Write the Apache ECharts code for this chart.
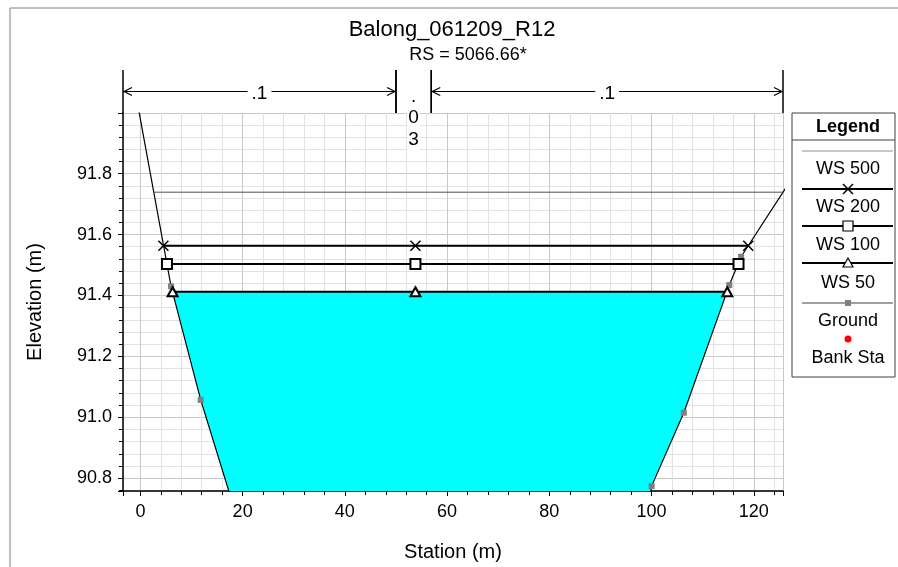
<!DOCTYPE html>
<html>
<head>
<meta charset="utf-8">
<title>Balong_061209_R12</title>
<script src="https://cdn.jsdelivr.net/npm/echarts@6/dist/echarts.min.js"></script>
<style>
html, body { margin: 0; padding: 0; background: #fff; }
#main { width: 898px; height: 567px; }
</style>
</head>
<body>
<div id="main"></div>
<script type="text/javascript">
// ground profile (station m / elevation m)
var groundStation = [-1.0, 6.0, 11.8, 20.2, 98.5, 100.0, 106.3, 115.2, 117.5, 130.0];
var groundElev = [92.07, 91.43, 91.057, 90.60, 90.60, 90.774, 91.015, 91.434, 91.527, 91.85];

// water surfaces: stations of the markers, one elevation each
var ws500Station = [2.6, 125.8];
var ws500Elev = 91.739;
var ws200Station = [4.5, 53.8, 118.9];
var ws200Elev = 91.563;
var ws100Station = [5.2, 53.8, 117.0];
var ws100Elev = 91.503;
var ws50Station = [6.3, 53.8, 114.8];
var ws50Elev = 91.412;

// manning's n regions
var nStations = [-3.4, 50.0, 56.9, 125.7];
var nValues = ['.1', '.03', '.1'];

var xMin = -3.4, xMax = 125.7;
var yMin = 90.758, yMax = 91.999;

var FONT = 'Liberation Sans, Arial, sans-serif';

function flat(st, elev) {
	return st.map(function (s) { return [s, elev]; });
}

var groundData = groundStation.map(function (s, i) { return [s, groundElev[i]]; });

// wetted area below WS 50
var wsL = ws50Station[0], wsR = ws50Station[ws50Station.length - 1];
var waterPoly = [[wsL, ws50Elev], [wsR, ws50Elev]];
for (var i = groundStation.length - 1; i >= 0; i--) {
	if (groundStation[i] > wsL && groundStation[i] < wsR && groundElev[i] < ws50Elev) {
		waterPoly.push([groundStation[i], groundElev[i]]);
	}
}

var xSym = 'path://M0,0L10,10M10,0L0,10';

var myChart = echarts.init(document.getElementById('main'));

var axisCommon = {
	type: 'value',
	splitNumber: 6,
	axisLine: { onZero: false, lineStyle: { color: '#000', width: 1.5 } },
	axisTick: { length: 5, lineStyle: { color: '#000' } },
	minorTick: { show: true, splitNumber: 5, length: 4, lineStyle: { color: '#000' } },
	splitLine: { show: true, lineStyle: { color: '#c8c8c8', width: 1 } },
	minorSplitLine: { show: true, lineStyle: { color: '#e2e2e2', width: 1 } },
	nameLocation: 'middle',
	nameTextStyle: { fontSize: 20, color: '#000', fontFamily: FONT }
};

var option = {
	animation: false,
	backgroundColor: '#fff',
	grid: { left: 123, top: 113, width: 660, height: 379 },
	xAxis: echarts.util.merge({
		min: xMin, max: xMax,
		name: 'Station (m)', nameGap: 51,
		axisLabel: { showMinLabel: false, showMaxLabel: false, fontSize: 18, color: '#000', fontFamily: FONT, margin: 12 }
	}, axisCommon),
	yAxis: echarts.util.merge({
		min: yMin, max: yMax,
		name: 'Elevation (m)', nameGap: 78,
		axisLabel: { showMinLabel: false, showMaxLabel: false, fontSize: 18, color: '#000', fontFamily: FONT, margin: 11,
			formatter: function (v) { return v.toFixed(1); } }
	}, axisCommon),
	graphic: [
		{ type: 'rect', shape: { x: 10, y: 8, width: 1000, height: 1000 }, style: { fill: null, stroke: '#808080', lineWidth: 1 }, silent: true },
		{ type: 'text', x: 452, y: 30, style: { text: 'Balong_061209_R12', font: '22px ' + FONT, fill: '#000', align: 'center', verticalAlign: 'middle' } },
		{ type: 'text', x: 468, y: 55, style: { text: 'RS = 5066.66*', font: '18px ' + FONT, fill: '#000', align: 'center', verticalAlign: 'middle' } },
		{
			type: 'group', x: 792, y: 113,
			children: [
				{ type: 'rect', shape: { x: 0, y: 0, width: 103, height: 264 }, style: { fill: '#fff', stroke: '#404040', lineWidth: 1 } },
				{ type: 'line', shape: { x1: 0, y1: 27, x2: 103, y2: 27 }, style: { stroke: '#404040', lineWidth: 1 } },
				{ type: 'text', x: 56, y: 14, style: { text: 'Legend', font: 'bold 18px ' + FONT, fill: '#000', align: 'center', verticalAlign: 'middle' } },
				// WS 500
				{ type: 'line', shape: { x1: 10, y1: 38, x2: 101, y2: 38 }, style: { stroke: '#909090', lineWidth: 1 } },
				{ type: 'text', x: 56, y: 56, style: { text: 'WS 500', font: '18px ' + FONT, fill: '#000', align: 'center', verticalAlign: 'middle' } },
				// WS 200
				{ type: 'line', shape: { x1: 10, y1: 76, x2: 101, y2: 76 }, style: { stroke: '#000', lineWidth: 2 } },
				{ type: 'polyline', shape: { points: [[51, 71], [61, 81]] }, style: { stroke: '#000', lineWidth: 1.5, fill: null } },
				{ type: 'polyline', shape: { points: [[61, 71], [51, 81]] }, style: { stroke: '#000', lineWidth: 1.5, fill: null } },
				{ type: 'text', x: 56, y: 94, style: { text: 'WS 200', font: '18px ' + FONT, fill: '#000', align: 'center', verticalAlign: 'middle' } },
				// WS 100
				{ type: 'line', shape: { x1: 10, y1: 113, x2: 101, y2: 113 }, style: { stroke: '#000', lineWidth: 2 } },
				{ type: 'rect', shape: { x: 51, y: 108, width: 10, height: 10 }, style: { fill: '#fff', stroke: '#000', lineWidth: 1.2 } },
				{ type: 'text', x: 56, y: 132, style: { text: 'WS 100', font: '18px ' + FONT, fill: '#000', align: 'center', verticalAlign: 'middle' } },
				// WS 50
				{ type: 'line', shape: { x1: 10, y1: 150, x2: 101, y2: 150 }, style: { stroke: '#000', lineWidth: 2 } },
				{ type: 'polygon', shape: { points: [[56, 145], [61, 154], [51, 154]] }, style: { fill: '#fff', stroke: '#000', lineWidth: 1.2 } },
				{ type: 'text', x: 56, y: 170, style: { text: 'WS 50', font: '18px ' + FONT, fill: '#000', align: 'center', verticalAlign: 'middle' } },
				// Ground
				{ type: 'line', shape: { x1: 10, y1: 190, x2: 101, y2: 190 }, style: { stroke: '#808080', lineWidth: 1.5 } },
				{ type: 'rect', shape: { x: 53, y: 187, width: 6, height: 6 }, style: { fill: '#808080' } },
				{ type: 'text', x: 56, y: 208, style: { text: 'Ground', font: '18px ' + FONT, fill: '#000', align: 'center', verticalAlign: 'middle' } },
				// Bank Sta
				{ type: 'circle', shape: { cx: 56, cy: 226, r: 3.5 }, style: { fill: '#ff0000' } },
				{ type: 'text', x: 56, y: 245, style: { text: 'Bank Sta', font: '18px ' + FONT, fill: '#000', align: 'center', verticalAlign: 'middle' } }
			]
		}
	],
	series: [
		{
			name: 'water',
			type: 'custom',
			clip: true,
			silent: true,
			z: 1,
			data: [[wsL, ws50Elev]],
			renderItem: function (params, api) {
				var pts = waterPoly.map(function (p) { return api.coord(p); });
				return { type: 'polygon', shape: { points: pts }, style: { fill: '#00ffff', stroke: null } };
			}
		},
		{
			name: 'Ground',
			type: 'line',
			z: 3,
			data: groundData,
			symbol: 'rect',
			symbolSize: 6,
			showAllSymbol: true,
			itemStyle: { color: '#808080' },
			lineStyle: { color: '#000', width: 1.2 }
		},
		{
			name: 'WS 500',
			type: 'line',
			z: 4,
			data: flat(ws500Station, ws500Elev),
			symbol: 'none',
			lineStyle: { color: '#505050', width: 1 }
		},
		{
			name: 'WS 200',
			type: 'line',
			z: 4,
			data: flat(ws200Station, ws200Elev),
			symbol: xSym,
			symbolSize: 10,
			itemStyle: { color: '#000', borderColor: '#000', borderWidth: 1.5 },
			lineStyle: { color: '#000', width: 2 }
		},
		{
			name: 'WS 100',
			type: 'line',
			z: 4,
			data: flat(ws100Station, ws100Elev),
			symbol: 'emptyRect',
			symbolSize: 10,
			itemStyle: { color: '#000', borderWidth: 1.2 },
			lineStyle: { color: '#000', width: 2 }
		},
		{
			name: 'WS 50',
			type: 'line',
			z: 4,
			data: flat(ws50Station, ws50Elev),
			symbol: 'emptyTriangle',
			symbolSize: [10, 9],
			itemStyle: { color: '#000', borderWidth: 1.2 },
			lineStyle: { color: '#000', width: 2 }
		},
		{
			name: 'n',
			type: 'custom',
			clip: false,
			silent: true,
			z: 5,
			data: nValues.map(function (v, i) { return [nStations[i], nStations[i + 1], yMax]; }),
			encode: { x: [0, 1], y: 2 },
			renderItem: function (params, api) {
				var x0 = api.coord([api.value(0), yMax])[0];
				var x1 = api.coord([api.value(1), yMax])[0];
				var top = params.coordSys.y;
				var ay = top - 21.5;
				var label = nValues[params.dataIndex];
				var kids = [
					{ type: 'line', shape: { x1: x0, y1: top - 43, x2: x0, y2: top }, style: { stroke: '#000', lineWidth: 1.5 } },
					{ type: 'line', shape: { x1: x1, y1: top - 43, x2: x1, y2: top }, style: { stroke: '#000', lineWidth: 1.5 } }
				];
				if (x1 - x0 > 60) {
					kids.push({ type: 'line', shape: { x1: x0, y1: ay, x2: x1, y2: ay }, style: { stroke: '#000', lineWidth: 1 } });
					kids.push({ type: 'polyline', shape: { points: [[x0 + 9, ay - 4], [x0 + 1, ay], [x0 + 9, ay + 4]] }, style: { stroke: '#000', lineWidth: 1.2, fill: null } });
					kids.push({ type: 'polyline', shape: { points: [[x1 - 9, ay - 4], [x1 - 1, ay], [x1 - 9, ay + 4]] }, style: { stroke: '#000', lineWidth: 1.2, fill: null } });
					kids.push({ type: 'text', style: { text: label, x: (x0 + x1) / 2, y: ay + 2, align: 'center', verticalAlign: 'middle',
						font: '19px ' + FONT, fill: '#000', backgroundColor: '#fff', padding: [0, 4] } });
				} else {
					kids.push({ type: 'text', style: { text: label.split('').join('\n'), x: (x0 + x1) / 2, y: top - 27, align: 'center', verticalAlign: 'top',
						lineHeight: 21.5, font: '19px ' + FONT, fill: '#000', backgroundColor: '#fff', padding: [0, 1] } });
				}
				return { type: 'group', children: kids };
			}
		}
	]
};

myChart.setOption(option);
</script>
</body>
</html>
